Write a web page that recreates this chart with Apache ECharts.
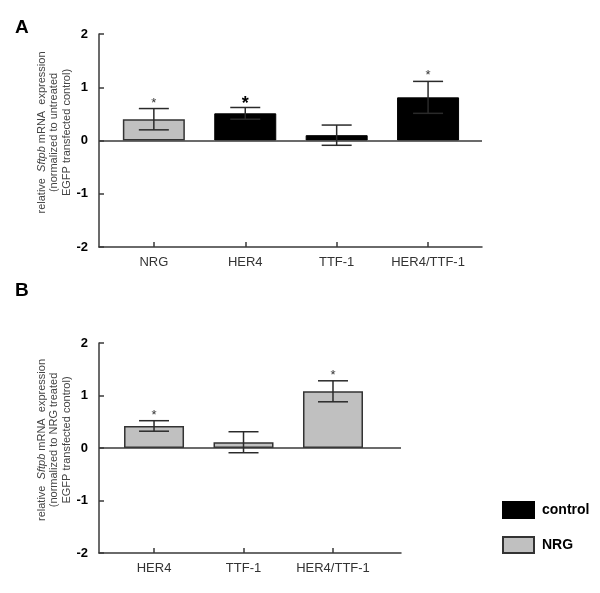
<!DOCTYPE html>
<html>
<head>
<meta charset="utf-8">
<script src="https://cdn.jsdelivr.net/npm/echarts@6/dist/echarts.min.js"></script>
<style>
html, body { margin: 0; background: #fff; }
#chart { width: 600px; height: 593px; }
</style>
</head>
<body>
<div id="chart"></div>
<script>
// panel A
const categoriesA = ['NRG', 'HER4', 'TTF-1', 'HER4/TTF-1'];
const groupA = ['NRG', 'control', 'control', 'control'];
const meanA = [0.4, 0.51, 0.1, 0.81];
const errA = [0.2, 0.11, 0.19, 0.3];
const starA = ['*', '*', '', '*'];
const boldStarA = [false, true, false, false];

// panel B
const categoriesB = ['HER4', 'TTF-1', 'HER4/TTF-1'];
const groupB = ['NRG', 'NRG', 'NRG'];
const meanB = [0.42, 0.11, 1.08];
const errB = [0.1, 0.2, 0.2];
const starB = ['*', '', '*'];
const boldStarB = [false, false, false];

const yTicks = [-2, -1, 0, 1, 2];
const legendNames = ['control', 'NRG'];

const FONT = 'Arial, "Liberation Sans", sans-serif';
const AXIS_COLOR = '#3a3a3a';
const fills = {
    control: { color: '#000000', borderColor: '#000000', borderWidth: 1 },
    NRG: { color: '#c0c0c0', borderColor: '#333333', borderWidth: 1.5 }
};

function barData(means, groups, name) {
    const out = [];
    means.forEach(function (v, i) {
        if (groups[i] === name) out.push([i, v]);
    });
    return out;
}

function errData(means, errs, stars, bold) {
    return means.map(function (v, i) {
        return [i, v, errs[i], stars[i] ? 1 : 0, bold[i] ? 1 : 0];
    });
}

function renderError(params, api) {
    const x = api.value(0);
    const m = api.value(1);
    const e = api.value(2);
    const top = api.coord([x, m + e]);
    const bot = api.coord([x, m - e]);
    const half = 15;
    const lineStyle = { stroke: '#2a2a2a', lineWidth: 1.5 };
    const children = [
        { type: 'line', shape: { x1: top[0], y1: top[1], x2: bot[0], y2: bot[1] }, style: lineStyle },
        { type: 'line', shape: { x1: top[0] - half, y1: top[1], x2: top[0] + half, y2: top[1] }, style: lineStyle },
        { type: 'line', shape: { x1: bot[0] - half, y1: bot[1], x2: bot[0] + half, y2: bot[1] }, style: lineStyle }
    ];
    if (api.value(3)) {
        const bold = api.value(4);
        children.push({
            type: 'text',
            style: {
                text: '*',
                x: top[0],
                y: top[1] + (bold ? 6 : 1),
                align: 'center',
                verticalAlign: 'bottom',
                fill: bold ? '#000' : '#333',
                font: (bold ? 'bold 18px ' : '13px ') + FONT
            }
        });
    }
    return { type: 'group', children: children };
}

function xAxisFor(cats, gridIndex, min, max) {
    const idx = cats.map(function (c, i) { return i; });
    return {
        type: 'value',
        gridIndex: gridIndex,
        min: min,
        max: max,
        splitLine: { show: false },
        axisLine: { onZero: false, lineStyle: { color: AXIS_COLOR, width: 1.5 } },
        axisTick: { inside: true, length: 5, customValues: idx, lineStyle: { color: AXIS_COLOR, width: 1.5 } },
        axisLabel: {
            customValues: idx,
            margin: 9,
            fontFamily: FONT,
            fontSize: 13,
            color: '#333',
            formatter: function (v) { return cats[Math.round(v)]; }
        }
    };
}

function yAxisFor(gridIndex, title2) {
    return {
        type: 'value',
        gridIndex: gridIndex,
        min: yTicks[0],
        max: yTicks[yTicks.length - 1],
        interval: 1,
        splitLine: { show: false },
        axisLine: { show: true, onZero: false, lineStyle: { color: AXIS_COLOR, width: 1.5 } },
        axisTick: { inside: true, length: 5, lineStyle: { color: AXIS_COLOR, width: 1.5 } },
        axisLabel: { margin: 11, fontFamily: FONT, fontSize: 13, fontWeight: 'bold', color: '#000' },
        name: '{n|relative  }{i|Sftpb}{n| mRNA  expression}\n{n|' + title2 + '}\n{n|EGFP transfected control)}',
        nameLocation: 'middle',
        nameRotate: 90,
        nameGap: 26,
        nameMoveOverlap: false,
        nameTextStyle: {
            align: 'center',
            padding: [0, 0, 0, 16],
            rich: {
                n: { fontFamily: FONT, fontSize: 11, color: '#444', lineHeight: 12.5 },
                i: { fontFamily: FONT, fontSize: 11, fontStyle: 'italic', color: '#444', lineHeight: 12.5 }
            }
        }
    };
}

const chart = echarts.init(document.getElementById('chart'));

const zeroLine = {
    silent: true,
    symbol: ['none', 'none'],
    label: { show: false },
    lineStyle: { color: AXIS_COLOR, width: 1.5, type: 'solid' },
    data: [{ yAxis: 0 }]
};

const option = {
    animation: false,
    backgroundColor: '#fff',
    textStyle: { fontFamily: FONT },
    graphic: [
        { type: 'text', left: 15, top: 18, style: { text: 'A', font: 'bold 19px ' + FONT, fill: '#000' } },
        { type: 'text', left: 15, top: 281, style: { text: 'B', font: 'bold 19px ' + FONT, fill: '#000' } }
    ],
    legend: {
        data: legendNames,
        orient: 'vertical',
        left: 502,
        top: 501,
        padding: 0,
        itemWidth: 31,
        itemHeight: 16,
        itemGap: 17,
        icon: 'rect',
        textStyle: { fontFamily: FONT, fontSize: 14, fontWeight: 'bold', color: '#000', padding: [0, 0, 0, 3] }
    },
    grid: [
        { left: 99, top: 34, width: 383, height: 213 },
        { left: 99, top: 343, width: 302, height: 210 }
    ],
    xAxis: [
        xAxisFor(categoriesA, 0, -0.6, 3.59),
        xAxisFor(categoriesB, 1, -0.615, 2.76)
    ],
    yAxis: [
        yAxisFor(0, '(normalized to untreated'),
        yAxisFor(1, '(normalized to NRG treated')
    ],
    series: [
        {
            name: 'control', type: 'bar', xAxisIndex: 0, yAxisIndex: 0,
            barWidth: 62, barGap: '-100%',
            itemStyle: fills.control,
            data: barData(meanA, groupA, 'control'),
            markLine: zeroLine
        },
        {
            name: 'NRG', type: 'bar', xAxisIndex: 0, yAxisIndex: 0,
            barWidth: 62, barGap: '-100%',
            itemStyle: fills.NRG,
            data: barData(meanA, groupA, 'NRG')
        },
        {
            name: 'errA', type: 'custom', xAxisIndex: 0, yAxisIndex: 0, z: 5,
            renderItem: renderError,
            data: errData(meanA, errA, starA, boldStarA)
        },
        {
            name: 'NRG', type: 'bar', xAxisIndex: 1, yAxisIndex: 1,
            barWidth: 60,
            itemStyle: fills.NRG,
            data: barData(meanB, groupB, 'NRG'),
            markLine: zeroLine
        },
        {
            name: 'errB', type: 'custom', xAxisIndex: 1, yAxisIndex: 1, z: 5,
            renderItem: renderError,
            data: errData(meanB, errB, starB, boldStarB)
        }
    ]
};

chart.setOption(option);
window.addEventListener('resize', function () { chart.resize(); });
</script>
</body>
</html>
